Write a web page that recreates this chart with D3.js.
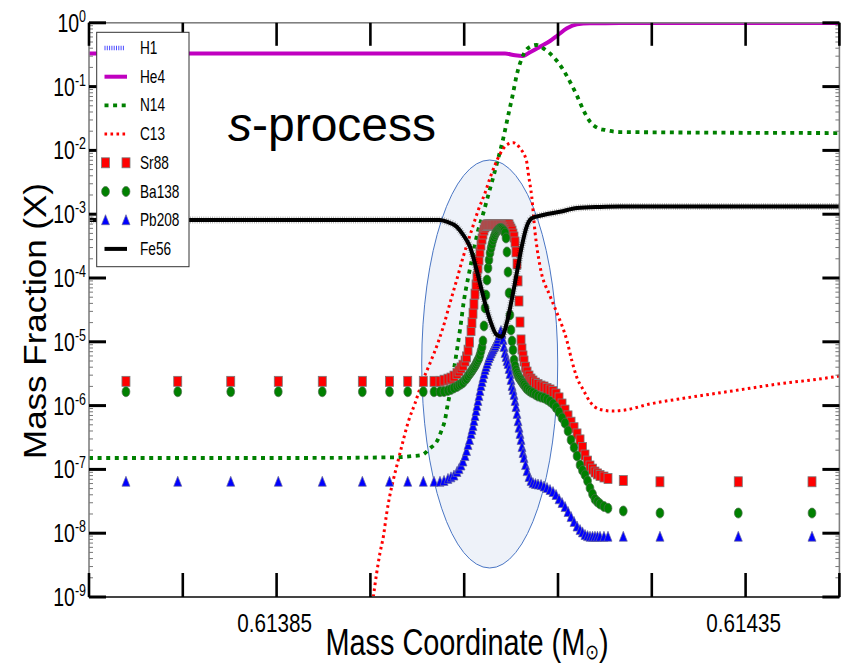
<!DOCTYPE html>
<html>
<head>
<meta charset="utf-8">
<script src="https://cdn.jsdelivr.net/npm/d3@7"></script>
<style>
  body { margin: 0; background: #fff; }
  svg { display: block; }
  text { font-family: "Liberation Sans", Arial, sans-serif; fill: #000; }
</style>
</head>
<body>
<svg id="chart" width="865" height="666"></svg>
<script>
// ---- Zone mass coordinates (Msun) shared by the marker species ----
const mass = [
  0.6136894, 0.6137446, 0.6138011, 0.6138518, 0.6138987, 0.6139414, 0.6139704, 0.6139898, 0.6140064, 0.6140178, 0.6140242,
  0.6140285, 0.6140327, 0.6140359, 0.6140391, 0.6140423, 0.6140445, 0.6140466, 0.6140487, 0.6140509, 0.6140525, 0.6140541, 0.6140557, 0.6140573,
  0.6140583, 0.6140594, 0.6140604, 0.6140615, 0.6140626, 0.6140636, 0.6140647, 0.6140658, 0.6140668, 0.6140679, 0.6140690, 0.6140700, 0.6140711, 0.6140722, 0.6140732,
  0.6140743, 0.6140754, 0.6140764, 0.6140775, 0.6140786, 0.6140796, 0.6140807, 0.6140818, 0.6140828, 0.6140839, 0.6140850, 0.6140860, 0.6140871, 0.6140882, 0.6140892, 0.6140903, 0.6140914, 0.6140924, 0.6140935, 0.6140946, 0.6140956, 0.6140967, 0.6140978,
  0.6140988, 0.6140999, 0.6141010, 0.6141020, 0.6141031, 0.6141042, 0.6141052, 0.6141063, 0.6141074, 0.6141084, 0.6141095, 0.6141106, 0.6141116, 0.6141127, 0.6141138,
  0.6141154, 0.6141170, 0.6141191, 0.6141212, 0.6141233, 0.6141260, 0.6141287, 0.6141319, 0.6141351, 0.6141383, 0.6141415, 0.6141447, 0.6141479, 0.6141511, 0.6141543, 0.6141575, 0.6141607, 0.6141639, 0.6141671, 0.6141703, 0.6141735, 0.6141761, 0.6141788, 0.6141815, 0.6141841, 0.6141868, 0.6141894, 0.6141921, 0.6141948, 0.6141990, 0.6142033,
  0.6142196, 0.6142587, 0.6143422, 0.6144208
];

const sr88 = [
  2.4e-6, 2.4e-6, 2.4e-6, 2.4e-6, 2.4e-6, 2.4e-6, 2.4e-6, 2.4e-6, 2.4e-6, 2.4e-6, 2.4e-6,
  2.5e-6, 2.6e-6, 2.7e-6, 2.9e-6, 3.2e-6, 3.5e-6, 3.9e-6, 4.3e-6, 5.0e-6, 5.8e-6, 7.4e-6, 9.9e-6, 1.5e-5,
  2.0e-5, 2.8e-5, 3.9e-5, 5.6e-5, 7.8e-5, 1.04e-4, 1.43e-4, 1.92e-4, 2.56e-4, 3.29e-4, 4.09e-4, 4.89e-4, 5.65e-4, 6.3e-4, 6.65e-4,
  6.8e-4, 6.8e-4, 6.8e-4, 6.8e-4, 6.8e-4, 6.8e-4, 6.8e-4, 6.8e-4, 6.8e-4, 6.8e-4, 6.8e-4, 6.8e-4, 6.8e-4, 6.8e-4, 6.8e-4, 6.8e-4, 6.8e-4, 6.8e-4, 6.8e-4, 6.8e-4, 6.8e-4, 6.8e-4, 6.8e-4,
  6.3e-4, 5.86e-4, 5.45e-4, 4.89e-4, 4.39e-4, 3.67e-4, 2.56e-4, 1.66e-4, 9.0e-5, 4.36e-5, 2.04e-5, 1.07e-5, 7.7e-6, 6.0e-6, 5.0e-6,
  4.0e-6, 3.36e-6, 2.91e-6, 2.61e-6, 2.43e-6, 2.26e-6, 2.14e-6, 2.03e-6, 1.96e-6, 1.85e-6, 1.76e-6, 1.66e-6, 1.52e-6, 1.32e-6, 1.06e-6, 8.5e-7, 6.9e-7, 5.5e-7, 4.5e-7, 3.6e-7, 2.9e-7, 2.2e-7, 1.68e-7, 1.35e-7, 1.13e-7, 1.01e-7, 9.1e-8, 8.5e-8, 8.0e-8, 7.6e-8, 7.2e-8,
  6.7e-8, 6.4e-8, 6.4e-8, 6.4e-8
];

const ba138 = [
  1.65e-6, 1.65e-6, 1.65e-6, 1.65e-6, 1.65e-6, 1.65e-6, 1.65e-6, 1.65e-6, 1.65e-6, 1.65e-6, 1.65e-6,
  1.66e-6, 1.72e-6, 1.79e-6, 1.89e-6, 1.99e-6, 2.10e-6, 2.18e-6, 2.30e-6, 2.52e-6, 2.66e-6, 2.91e-6, 3.13e-6, 3.36e-6,
  3.55e-6, 3.75e-6, 3.96e-6, 4.18e-6, 4.49e-6, 4.83e-6, 5.18e-6, 5.57e-6, 6.21e-6, 7.17e-6, 8.29e-6, 1.03e-5, 1.77e-5, 3.39e-5, 5.41e-5,
  9.31e-5, 1.43e-4, 1.92e-4, 2.47e-4, 2.95e-4, 3.41e-4, 3.94e-4, 4.39e-4, 4.81e-4, 5.17e-4, 5.45e-4, 5.65e-4, 5.86e-4, 5.97e-4, 5.97e-4, 5.86e-4, 5.65e-4, 5.45e-4, 5.07e-4, 4.24e-4, 2.56e-4, 1.24e-4, 5.82e-5,
  2.63e-5, 1.53e-5, 1.03e-5, 7.44e-6, 5.18e-6, 4.18e-6, 3.61e-6, 3.24e-6, 2.96e-6, 2.76e-6, 2.61e-6, 2.47e-6, 2.34e-6, 2.22e-6, 2.10e-6,
  1.96e-6, 1.82e-6, 1.72e-6, 1.63e-6, 1.58e-6, 1.49e-6, 1.41e-6, 1.36e-6, 1.32e-6, 1.25e-6, 1.16e-6, 1.06e-6, 9.3e-7, 7.9e-7, 6.4e-7, 5.3e-7, 4.0e-7, 2.9e-7, 2.2e-7, 1.62e-7, 1.17e-7, 9.6e-8, 8.2e-8, 6.6e-8, 5.1e-8, 4.1e-8, 3.4e-8, 3.1e-8, 2.87e-8, 2.62e-8, 2.46e-8,
  2.23e-8, 2.07e-8, 2.07e-8, 2.07e-8
];

const pb208 = [
  6.4e-8, 6.4e-8, 6.4e-8, 6.4e-8, 6.4e-8, 6.4e-8, 6.4e-8, 6.4e-8, 6.4e-8, 6.4e-8, 6.4e-8,
  6.6e-8, 7.1e-8, 7.5e-8, 8.0e-8, 9.1e-8, 1.01e-7, 1.15e-7, 1.33e-7, 1.62e-7, 1.94e-7, 2.41e-7, 2.89e-7, 3.59e-7,
  4.15e-7, 4.79e-7, 5.74e-7, 6.87e-7, 8.23e-7, 9.86e-7, 1.18e-6, 1.41e-6, 1.69e-6, 2.03e-6, 2.34e-6, 2.71e-6, 3.13e-6, 3.61e-6, 4.03e-6,
  4.49e-6, 5.0e-6, 5.57e-6, 5.99e-6, 6.56e-6, 7.05e-6, 7.57e-6, 8.14e-6, 8.6e-6, 9.24e-6, 9.93e-6, 1.11e-5, 1.23e-5, 1.37e-5, 1.48e-5, 1.33e-5, 1.07e-5, 8.29e-6, 6.67e-6, 5.78e-6, 5.0e-6, 4.49e-6, 3.75e-6,
  3.13e-6, 2.52e-6, 2.03e-6, 1.76e-6, 1.47e-6, 1.18e-6, 9.5e-7, 7.4e-7, 5.7e-7, 4.5e-7, 3.6e-7, 2.9e-7, 2.24e-7, 1.81e-7, 1.51e-7,
  1.17e-7, 9.4e-8, 7.6e-8, 6.6e-8, 6.1e-8, 5.9e-8, 5.8e-8, 5.7e-8, 5.4e-8, 5.1e-8, 4.75e-8, 4.42e-8, 3.97e-8, 3.4e-8, 2.97e-8, 2.57e-8, 2.15e-8, 1.79e-8, 1.5e-8, 1.27e-8, 1.12e-8, 1.03e-8, 9.4e-9, 9.0e-9, 8.8e-9, 8.8e-9, 8.8e-9, 8.8e-9, 8.8e-9, 8.8e-9, 8.8e-9,
  8.8e-9, 8.8e-9, 8.8e-9, 8.8e-9
];

// ---- Line species, each on its own sampling ----
const he4Mass = [0.61365, 0.6140935, 0.6141042, 0.6141127, 0.6141202, 0.6141308, 0.6141415, 0.6141500, 0.6141596, 0.6141703, 0.6141841, 0.6142161, 0.61445];
const he4     = [0.330,   0.330,     0.309,     0.303,     0.345,     0.422,     0.519,     0.644,     0.820,     0.947,     0.982,     0.990,     0.990];

const n14Mass = [0.61365, 0.6138750, 0.6139780, 0.6139954, 0.6140047, 0.6140135, 0.6140207, 0.6140260, 0.6140295, 0.6140320, 0.6140349,
  0.6140386, 0.6140423, 0.6140461, 0.6140498, 0.6140544, 0.6140583, 0.6140647, 0.6140704, 0.6140754, 0.6140807, 0.6140864, 0.6140917,
  0.6140970, 0.6141017, 0.6141060, 0.6141130, 0.6141202, 0.6141273, 0.6141343, 0.6141450, 0.6141557, 0.6141628, 0.6141699, 0.6141770,
  0.6141841, 0.6141930, 0.6142001, 0.6142161, 0.61445];
const n14 = [1.51e-7, 1.51e-7, 1.55e-7, 1.62e-7, 1.68e-7, 2.14e-7, 2.72e-7, 4.15e-7, 5.95e-7, 9.61e-7, 1.58e-6,
  3.36e-6, 7.44e-6, 1.77e-5, 4.52e-5, 1.04e-4, 1.99e-4, 5.45e-4, 1.04e-3, 1.93e-3, 3.69e-3, 7.6e-3, 1.56e-2,
  3.59e-2, 7.39e-2, 0.152, 0.313, 0.422, 0.449, 0.398, 0.294, 0.182, 0.119, 7.39e-2, 4.3e-2,
  2.82e-2, 2.22e-2, 2.09e-2, 1.94e-2, 1.87e-2];

const c13Mass = [0.6139531, 0.6139567, 0.6139602, 0.6139638, 0.6139674, 0.6139702, 0.6139744, 0.6139797, 0.6139851, 0.6139904,
  0.6139976, 0.6140047, 0.6140135, 0.6140224, 0.6140277, 0.6140349, 0.6140420, 0.6140490, 0.6140580, 0.6140650, 0.6140722,
  0.6140775, 0.6140828, 0.6140882, 0.6140953, 0.6141024, 0.6141095, 0.6141166, 0.6141183, 0.6141220, 0.6141255, 0.6141308,
  0.6141415, 0.6141489, 0.6141593, 0.6141646, 0.6141699, 0.6141770, 0.6141841, 0.6141948, 0.6142086, 0.6142214, 0.6142481,
  0.6142836, 0.6143192, 0.6143547, 0.6143902, 0.6144258, 0.61445];
const c13 = [1.0e-9, 2.38e-9, 4.89e-9, 8.81e-9, 2.07e-8, 3.56e-8, 6.82e-8, 1.4e-7, 2.89e-7, 5.59e-7,
  1.09e-6, 2.24e-6, 4.6e-6, 1.0e-5, 1.72e-5, 4.06e-5, 9.31e-5, 2.16e-4, 5.65e-4, 1.16e-3, 2.15e-3,
  3.69e-3, 5.91e-3, 8.78e-3, 1.22e-2, 1.32e-2, 1.08e-2, 6.65e-3, 4.38e-3, 1.88e-3, 5.26e-4, 1.54e-4,
  5.22e-5, 2.83e-5, 1.07e-5, 5.18e-6, 2.81e-6, 1.76e-6, 1.15e-6, 8.69e-7, 8.2e-7, 8.53e-7, 1.06e-6,
  1.30e-6, 1.56e-6, 1.87e-6, 2.24e-6, 2.58e-6, 2.9e-6];

const fe56Mass = [0.61365, 0.6140135, 0.6140242, 0.6140313, 0.6140420, 0.6140490, 0.6140562, 0.6140633, 0.6140704, 0.6140775,
  0.6140846, 0.6140900, 0.6140953, 0.6141006, 0.6141060, 0.6141113, 0.6141166, 0.6141220, 0.6141343, 0.6141521, 0.6141703,
  0.6141948, 0.6142161, 0.61445];
const fe56 = [8.11e-4, 8.11e-4, 8.11e-4, 7.63e-4, 6.37e-4, 4.72e-4, 3.09e-4, 1.335e-4, 5.09e-5, 2.2e-5,
  1.28e-5, 1.2e-5, 1.95e-5, 4.52e-5, 1.18e-4, 3.09e-4, 6.37e-4, 8.62e-4, 9.72e-4, 1.09e-3, 1.25e-3,
  1.30e-3, 1.32e-3, 1.32e-3];

// ---- Axes, labels, legend, annotation ----
const xDomain = [0.61365, 0.61445];
const xTickValues = [0.61365, 0.61375, 0.61385, 0.61395, 0.61405, 0.61415, 0.61425, 0.61435, 0.61445];
const xLabelValues = [0.61385, 0.61435];
const xLabelText = ["0.61385", "0.61435"];
const yExponents = [0, -1, -2, -3, -4, -5, -6, -7, -8, -9];
const legendNames = ["H1", "He4", "N14", "C13", "Sr88", "Ba138", "Pb208", "Fe56"];
const highlightMass = [0.6140047, 0.6141497];     // horizontal extent of the shaded pocket
const highlightFrac = [2.85e-9, 7.07e-3];         // vertical extent of the shaded pocket

// ---------------------------------------------------------------
const SX = 0.78;                       // horizontal text compression
const plot = { l: 89, r: 839.4, t: 22.8, b: 597 };
const svg = d3.select("#chart");

const x = d3.scaleLinear().domain(xDomain).range([plot.l, plot.r]);
const y = d3.scaleLog().domain([1e-9, 1]).range([plot.b, plot.t]);

svg.append("defs").append("clipPath").attr("id", "plotClip")
  .append("rect").attr("x", plot.l).attr("y", plot.t)
  .attr("width", plot.r - plot.l).attr("height", plot.b - plot.t);

const body = svg.append("g").attr("clip-path", "url(#plotClip)");

// shaded pocket
{
  const x0 = x(highlightMass[0]), x1 = x(highlightMass[1]);
  const y0 = y(highlightFrac[1]), y1 = y(highlightFrac[0]);
  body.append("ellipse")
    .attr("cx", (x0 + x1) / 2).attr("cy", (y0 + y1) / 2)
    .attr("rx", (x1 - x0) / 2).attr("ry", (y1 - y0) / 2)
    .attr("fill", "#eef2f9").attr("stroke", "#4a76c4").attr("stroke-width", 1);
}

const line = d3.line().x(d => x(d[0])).y(d => y(d[1])).curve(d3.curveMonotoneX);
const pairs = (ms, vs) => ms.map((m, i) => [m, vs[i]]);

body.append("path").datum(pairs(he4Mass, he4)).attr("d", line)
  .attr("fill", "none").attr("stroke", "#c000c0").attr("stroke-width", 4);
body.append("path").datum(pairs(n14Mass, n14)).attr("d", line)
  .attr("fill", "none").attr("stroke", "#008000").attr("stroke-width", 3.8)
  .attr("stroke-dasharray", "4,4.6");
body.append("path").datum(pairs(c13Mass, c13)).attr("d", line)
  .attr("fill", "none").attr("stroke", "#ff0000").attr("stroke-width", 3)
  .attr("stroke-dasharray", "2.6,3.4");

// marker species
const zones = mass.map((m, i) => ({ m, sr: sr88[i], ba: ba138[i], pb: pb208[i] }));

body.append("g").selectAll("rect").data(zones).join("rect")
  .attr("x", d => x(d.m) - 4).attr("y", d => y(d.sr) - 5)
  .attr("width", 8).attr("height", 10)
  .attr("fill", "#ff0000").attr("stroke", "#7a7a7a").attr("stroke-width", 0.8);

body.append("g").selectAll("ellipse").data(zones).join("ellipse")
  .attr("cx", d => x(d.m)).attr("cy", d => y(d.ba))
  .attr("rx", 3.9).attr("ry", 5)
  .attr("fill", "#008000").attr("stroke", "#4f6f4f").attr("stroke-width", 0.7);

const tri = (cx, cy) => `M${cx},${cy - 5.5}L${cx + 4},${cy + 4.5}L${cx - 4},${cy + 4.5}Z`;
body.append("g").selectAll("path").data(zones).join("path")
  .attr("d", d => tri(x(d.m), y(d.pb)))
  .attr("fill", "#0000ff").attr("stroke", "#6a6a9a").attr("stroke-width", 0.7);

// Fe56: thick black line with a ragged edge
const feD = line(pairs(fe56Mass, fe56));
body.append("path").attr("d", feD).attr("fill", "none")
  .attr("stroke", "#000").attr("stroke-width", 7).attr("stroke-opacity", 0.35)
  .attr("stroke-dasharray", "0.8,1.4");
body.append("path").attr("d", feD).attr("fill", "none")
  .attr("stroke", "#000").attr("stroke-width", 4);

// ---- frame and ticks ----
const frame = svg.append("g");
frame.append("rect").attr("x", plot.l).attr("y", plot.t)
  .attr("width", plot.r - plot.l).attr("height", plot.b - plot.t)
  .attr("fill", "none").attr("stroke", "#808080").attr("stroke-width", 1.6);
frame.append("line").attr("x1", plot.l).attr("x2", plot.r).attr("y1", plot.b).attr("y2", plot.b)
  .attr("stroke", "#444").attr("stroke-width", 1.8);

// minor log ticks
const minors = [];
yExponents.slice(1).forEach(e => { for (let k = 2; k <= 9; k++) minors.push(k * Math.pow(10, e)); });
frame.selectAll("line.minorL").data(minors).join("line").attr("class", "minorL")
  .attr("x1", plot.l).attr("x2", plot.l + 4).attr("y1", d => y(d)).attr("y2", d => y(d))
  .attr("stroke", "#777").attr("stroke-width", 1);
frame.selectAll("line.minorR").data(minors).join("line").attr("class", "minorR")
  .attr("x1", plot.r).attr("x2", plot.r - 4).attr("y1", d => y(d)).attr("y2", d => y(d))
  .attr("stroke", "#777").attr("stroke-width", 1);

// major log ticks
const majors = yExponents.map(e => Math.pow(10, e));
frame.selectAll("line.majorL").data(majors).join("line").attr("class", "majorL")
  .attr("x1", plot.l).attr("x2", plot.l + 17).attr("y1", d => y(d)).attr("y2", d => y(d))
  .attr("stroke", "#000").attr("stroke-width", 3);
frame.selectAll("line.majorR").data(majors).join("line").attr("class", "majorR")
  .attr("x1", plot.r).attr("x2", plot.r - 17).attr("y1", d => y(d)).attr("y2", d => y(d))
  .attr("stroke", "#000").attr("stroke-width", 3);

// x ticks, bottom (pointing up) and top (pointing down)
frame.selectAll("line.xb").data(xTickValues).join("line").attr("class", "xb")
  .attr("x1", d => x(d)).attr("x2", d => x(d)).attr("y1", plot.b).attr("y2", plot.b - 24)
  .attr("stroke", "#000").attr("stroke-width", 2.6);
frame.selectAll("line.xt").data(xTickValues).join("line").attr("class", "xt")
  .attr("x1", d => x(d)).attr("x2", d => x(d)).attr("y1", plot.t).attr("y2", plot.t + 23)
  .attr("stroke", "#000").attr("stroke-width", 2.6);

// ---- text helpers ----
function squeezed(px, py) {
  return svg.append("g").attr("transform", `translate(${px},${py}) scale(${SX},1)`);
}

// y tick labels: 10^e
yExponents.forEach(e => {
  const t = squeezed(86, y(Math.pow(10, e))).append("text").attr("text-anchor", "end").attr("y", 9);
  t.append("tspan").attr("font-size", 25).text("10");
  t.append("tspan").attr("font-size", 16).attr("dy", -10).text(String(e));
});

// x tick labels
xLabelValues.forEach((v, i) => {
  squeezed(x(v) - 2, 632).append("text").attr("text-anchor", "middle")
    .attr("font-size", 26.5).text(xLabelText[i]);
});

// axis titles
{
  const t = squeezed(467, 655).append("text").attr("text-anchor", "middle").attr("font-size", 37);
  t.append("tspan").text("Mass Coordinate (M");
  t.append("tspan").attr("font-size", 21).attr("dy", 4).attr("font-family", "DejaVu Sans").text("\u2299");
  t.append("tspan").attr("dy", -4).text(")");
}
svg.append("g").attr("transform", `translate(46,321) scale(0.92,1) rotate(-90)`)
  .append("text").attr("text-anchor", "middle").attr("font-size", 35)
  .text("Mass Fraction (X)");

// annotation
{
  const t = svg.append("text").attr("x", 228).attr("y", 141).attr("font-size", 48);
  t.append("tspan").attr("font-style", "italic").text("s");
  t.append("tspan").text("-process");
}

// ---- legend ----
const leg = svg.append("g");
leg.append("rect").attr("x", 96.7).attr("y", 32.3).attr("width", 92.3).attr("height", 234.4)
  .attr("fill", "#fff").attr("stroke", "#333").attr("stroke-width", 1);

const rowY = i => 48 + i * 28.7;
const sx0 = 104.5, sx1 = 127;
legendNames.forEach((name, i) => {
  const cy = rowY(i);
  const g = leg.append("g");
  if (name === "H1") {
    g.append("line").attr("x1", sx0).attr("x2", sx1 - 3).attr("y1", cy).attr("y2", cy)
      .attr("stroke", "#4c4cff").attr("stroke-width", 4.5).attr("stroke-dasharray", "1,1.3");
  } else if (name === "He4") {
    g.append("line").attr("x1", sx0).attr("x2", sx1).attr("y1", cy).attr("y2", cy)
      .attr("stroke", "#c000c0").attr("stroke-width", 4);
  } else if (name === "N14") {
    g.append("line").attr("x1", sx0).attr("x2", sx1).attr("y1", cy).attr("y2", cy)
      .attr("stroke", "#008000").attr("stroke-width", 3.8).attr("stroke-dasharray", "4,4.6");
  } else if (name === "C13") {
    g.append("line").attr("x1", sx0).attr("x2", sx1).attr("y1", cy).attr("y2", cy)
      .attr("stroke", "#ff0000").attr("stroke-width", 3).attr("stroke-dasharray", "2.6,3.4");
  } else if (name === "Sr88") {
    [sx0 + 1, sx1 - 1].forEach(px => g.append("rect").attr("x", px - 4).attr("y", cy - 5)
      .attr("width", 8).attr("height", 10).attr("fill", "#ff0000").attr("stroke", "#7a7a7a").attr("stroke-width", 0.8));
  } else if (name === "Ba138") {
    [sx0 + 1, sx1 - 1].forEach(px => g.append("ellipse").attr("cx", px).attr("cy", cy)
      .attr("rx", 3.9).attr("ry", 5).attr("fill", "#008000").attr("stroke", "#4f6f4f").attr("stroke-width", 0.7));
  } else if (name === "Pb208") {
    [sx0 + 1, sx1 - 1].forEach(px => g.append("path").attr("d", tri(px, cy))
      .attr("fill", "#0000ff").attr("stroke", "#6a6a9a").attr("stroke-width", 0.7));
  } else if (name === "Fe56") {
    g.append("line").attr("x1", sx0).attr("x2", sx1).attr("y1", cy).attr("y2", cy)
      .attr("stroke", "#000").attr("stroke-width", 4);
  }
  squeezed(140, cy + 6).append("text").attr("font-size", 17.5).text(name);
});
</script>
</body>
</html>
